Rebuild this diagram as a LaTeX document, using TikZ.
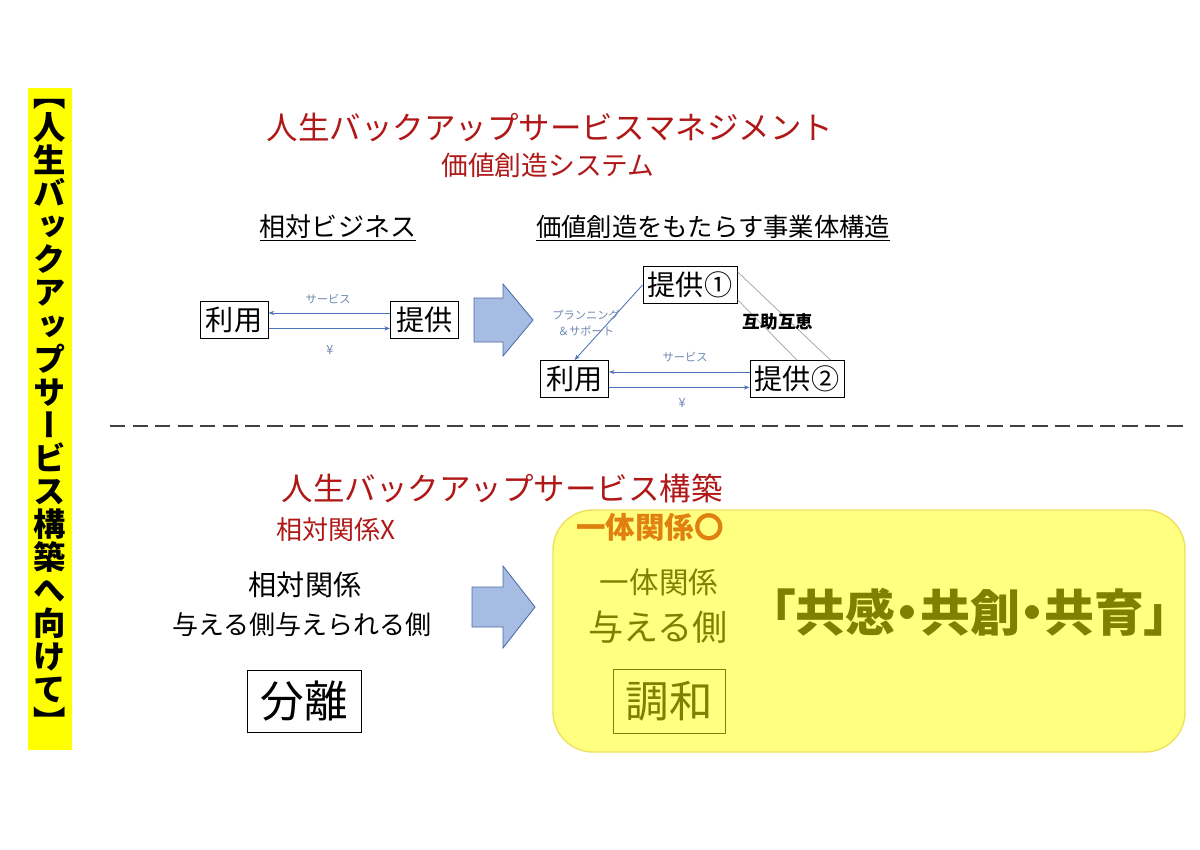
\documentclass[tikz,border=0pt]{standalone}
\usepackage{fontspec}
\setmainfont{Noto Sans CJK JP}
\newfontfamily\vertfont[RawFeature=+vert]{Noto Sans CJK JP}
\newfontfamily\paltfont[RawFeature=+palt]{Noto Sans CJK JP}
\usepackage{tikz}
\usetikzlibrary{arrows.meta, positioning}
\definecolor{TitleRed}   {HTML}{B01818}
\definecolor{FlowBlue}   {HTML}{4A72B8}
\definecolor{TagBlue}    {HTML}{6F88B2}
\definecolor{ArrowFill}  {HTML}{A7BCE2}
\definecolor{ArrowEdge}  {HTML}{4A6CA8}
\definecolor{LineGrey}   {HTML}{A0A0A0}
\definecolor{DashGrey}   {HTML}{404040}
\definecolor{BannerYellow}{HTML}{FFFF00}
\definecolor{BoxFill}    {HTML}{FFFF80}
\definecolor{BoxEdge}    {HTML}{F0E060}
\definecolor{OrangeTag}  {HTML}{E08010}
\definecolor{Olive}      {HTML}{808000}
\newcommand\fsz[1]{\fontsize{#1}{#1}\selectfont}

\begin{document}
\begin{tikzpicture}[x=0.025cm, y=-0.025cm,
    box/.style={draw=black, line width=0.7pt, inner sep=0pt,
                minimum width=1.7cm, minimum height=0.92cm, font=\fsz{20}},
    flow/.style={draw=FlowBlue, line width=0.6pt,
                 -{Stealth[length=4pt, width=3pt]}},
    mutual/.style={draw=LineGrey, line width=0.5pt},
    tag/.style={text=TagBlue, font=\fsz{8}, inner sep=0pt},
    title/.style={text=TitleRed, font=\fsz{22.4}, inner sep=0pt},
    bigarrow/.style={fill=ArrowFill, draw=ArrowEdge, line width=0.6pt}]
  \useasboundingbox[fill=white] (0,0) rectangle (1200,849);

  % Side banner
  \fill[BannerYellow] (28,88) rectangle (72,750);
  \node[font={\vertfont\bfseries\fontsize{23}{23.5}\selectfont},
        align=center, inner sep=0pt] (banner) at (50,417)
    {【\\人\\生\\バ\\ッ\\ク\\ア\\ッ\\プ\\サ\\ー\\ビ\\ス\\構\\築\\へ\\向\\け\\て\\】};

  % Upper half: management
  \node[title] (mgmt) at (550,127) {人生バックアップサービスマネジメント};
  \node[text=TitleRed, font=\fsz{19}, inner sep=0pt] (vcs) at (548,165) {価値創造システム};
  \node[font=\fsz{18.5}, inner sep=0pt] (relbiz) at (338,228) {\underline{相対ビジネス}};
  \node[font=\fsz{18}, inner sep=0pt] (struct) at (713,228) {\underline{価値創造をもたらす事業体構造}};

  % Relative business
  \node[box] (use1) at (234,320) {利用};
  \node[box] (give1) at (424.5,320) {提供};
  \draw[flow] ([yshift=5pt]give1.west) -- ([yshift=5pt]use1.east);
  \draw[flow] ([yshift=-6pt]use1.east) -- ([yshift=-6pt]give1.west);
  \node[tag] at (328,299) {サービス};
  \node[tag, font=\fsz{9}] at (330,350) {¥};

  \draw[bigarrow] (474,298) -- (503,298) -- (503,284) -- (533,320)
    -- (503,356) -- (503,342) -- (474,342) -- cycle;

  % Value creating structure
  \node[box, minimum width=2.35cm] (give2a) at (690,285) {提供①};
  \node[box] (use2) at (574.5,379) {利用};
  \node[box, minimum width=2.35cm] (give2b) at (797,379) {提供②};
  \draw[flow] (give2a.west) -- (use2.north);
  \draw[flow] ([yshift=5pt]give2b.west) -- ([yshift=5pt]use2.east);
  \draw[flow] ([yshift=-6pt]use2.east) -- ([yshift=-6pt]give2b.west);
  \draw[mutual] ([yshift=-4pt]give2a.north east) -- ([xshift=-10pt]give2b.north east);
  \draw[mutual] ([yshift=3pt]give2a.south east) -- (give2b.north);
  \node[tag, align=center, font={\fontsize{8}{12}\selectfont}] at (586,323)
    {プランニング\\＆サポート};
  \node[font={\fsz{12.5}\bfseries}, inner sep=0pt] (mutlabel) at (778,322) {互助互恵};
  \node[tag] at (685,357) {サービス};
  \node[tag, font=\fsz{9}] at (682,403) {¥};

  \draw[DashGrey, line width=1.4pt, dash pattern=on 11pt off 5pt] (110,426) -- (1185,426);

  % Lower half: building
  \node[title] (build) at (502,488) {人生バックアップサービス構築};
  \node[text=TitleRed, font=\fsz{18.5}, anchor=west, inner sep=0pt] (relx) at (276,530) {相対関係X};
  \node[font=\fsz{20}, inner sep=0pt] (relA) at (305,585) {相対関係};
  \node[font=\fsz{18.5}, inner sep=0pt] (relB) at (302,625) {与える側与えられる側};
  \node[box, minimum width=2.83cm, minimum height=1.55cm, font=\fsz{31}] (split) at (304.5,701) {分離};

  \draw[bigarrow] (472,587) -- (503,587) -- (503,566) -- (535,607)
    -- (503,648) -- (503,627) -- (472,627) -- cycle;

  \draw[fill=BoxFill, draw=BoxEdge, line width=1pt, rounded corners=1cm]
    (553,510) rectangle (1185,752);
  \node[text=OrangeTag, font={\fsz{21}\bfseries}, anchor=west, inner sep=0pt] (unity) at (576,527) {一体関係〇};
  \node[text=Olive, font=\fsz{21}, inner sep=0pt] (uniA) at (659,582) {一体関係};
  \node[text=Olive, font=\fsz{25}, inner sep=0pt] (uniB) at (658,627) {与える側};
  \node[box, draw=Olive, text=Olive, line width=0.6pt, minimum width=2.8cm,
        minimum height=1.58cm, font=\fsz{31}] (harmony) at (669,701.5) {調和};
  \node[text=Olive, font={\paltfont\bfseries\fsz{35.5}}, inner sep=0pt] (motto) at (970,612) {「共感・共創・共育」};
\end{tikzpicture}
\end{document}
